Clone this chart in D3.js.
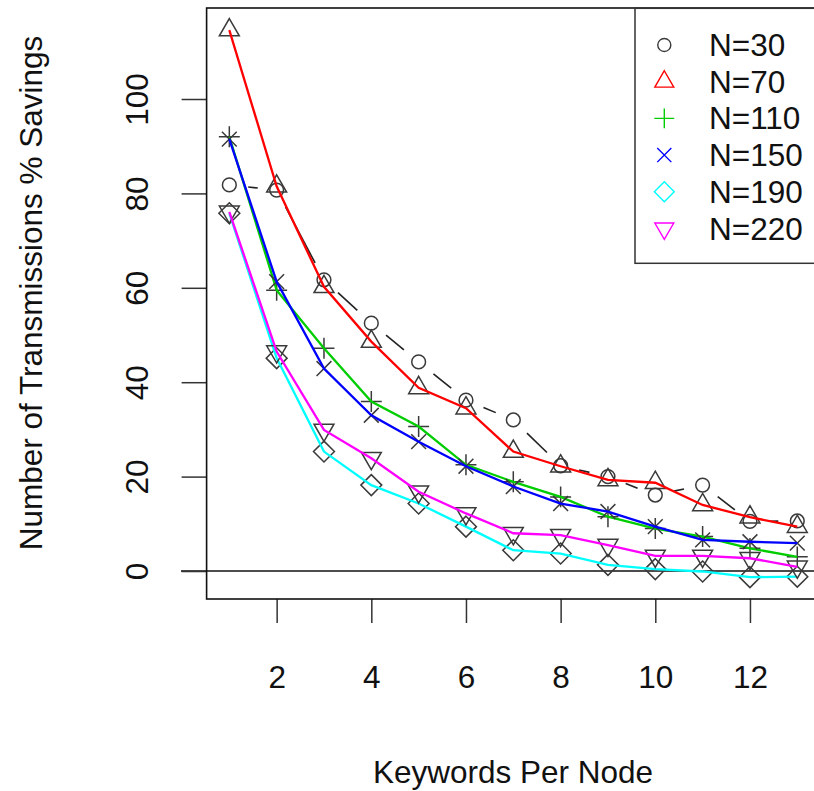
<!DOCTYPE html>
<html>
<head>
<meta charset="utf-8">
<script src="https://cdn.jsdelivr.net/npm/d3@7"></script>
<style>
  body { margin: 0; background: #fff; }
  svg text { font-family: "Liberation Sans", Arial, Helvetica, sans-serif; fill: #111; }
</style>
</head>
<body>
<div id="app"></div>
<script>
// values
var keywords = [1, 2, 3, 4, 5, 6, 7, 8, 9, 10, 11, 12, 13];
var seriesNames = ["N=30", "N=70", "N=110", "N=150", "N=190", "N=220"];
var n30 = [81.8, 80.7, 61.7, 52.5, 44.3, 36.2, 32.0, 22.3, 20.0, 16.1, 18.2, 10.5, 10.6];
var n70 = [114.6, 81.5, 60.2, 48.6, 38.8, 34.5, 25.3, 22.2, 19.3, 18.7, 14.0, 11.4, 9.4];
var n110 = [92.0, 59.5, 47.2, 35.9, 30.6, 22.5, 18.9, 15.7, 11.5, 9.0, 7.3, 4.8, 3.0];
var n150 = [91.5, 61.3, 42.9, 33.0, 27.4, 22.2, 17.9, 14.3, 12.6, 9.4, 6.6, 6.2, 5.9];
var n190 = [75.8, 45.1, 25.3, 18.2, 14.3, 9.4, 4.4, 3.7, 1.3, 0.4, -0.1, -1.3, -1.2];
var n220 = [76.1, 46.5, 29.9, 23.9, 16.8, 12.2, 8.0, 7.6, 5.5, 3.2, 3.2, 2.7, 0.9];
var xTicks = [2, 4, 6, 8, 10, 12];
var yTicks = [0, 20, 40, 60, 80, 100];

var allSeries = [n30, n70, n110, n150, n190, n220];
var colors = ["#000000", "#ff0000", "#00cd00", "#0000ff", "#00ffff", "#ff00ff"];
var shapes = ["circle", "triangle", "plus", "cross", "diamond", "nabla"];
var markColor = "#3a3a3a";
var fontSize = '31.5px';

var W = 814, H = 791;
var x = d3.scaleLinear().domain([0.52, 13.48]).range([206.6, 820]);
var y = d3.scaleLinear().domain([-5.93, 119.28]).range([599, 8]);

var svg = d3.select('#app').append('svg').attr('width', W).attr('height', H);

// R style point symbols, s is the base radius
function symbolPath(shape, s) {
  var p = d3.path();
  if (shape === "circle") {
    p.arc(0, 0, s * 0.93, 0, 2 * Math.PI);
  } else if (shape === "triangle" || shape === "nabla") {
    var r = 1.5551 * s, xc = 1.3468 * s, yc = 0.7776 * s;
    var f = shape === "triangle" ? 1 : -1;
    p.moveTo(0, -r * f); p.lineTo(xc, yc * f); p.lineTo(-xc, yc * f); p.closePath();
  } else if (shape === "plus") {
    var a = 1.414 * s;
    p.moveTo(-a, 0); p.lineTo(a, 0); p.moveTo(0, -a); p.lineTo(0, a);
  } else if (shape === "cross") {
    p.moveTo(-s, -s); p.lineTo(s, s); p.moveTo(-s, s); p.lineTo(s, -s);
  } else if (shape === "diamond") {
    var d = 1.414 * s;
    p.moveTo(0, -d); p.lineTo(d, 0); p.lineTo(0, d); p.lineTo(-d, 0); p.closePath();
  }
  return p.toString();
}

var symSize = 7.4;
var line = d3.line().x(function(d, i) { return x(keywords[i]); }).y(function(d) { return y(d); });

// zero reference line
svg.append('line')
  .attr('x1', 181).attr('x2', W).attr('y1', y(0)).attr('y2', y(0))
  .attr('stroke', '#111').attr('stroke-width', 1.6);

allSeries.forEach(function(vals, k) {
  var g = svg.append('g');
  // markers drawn in grey, line on top
  g.selectAll('path.pt').data(vals).enter().append('path')
    .attr('class', 'pt')
    .attr('transform', function(d, i) { return 'translate(' + x(keywords[i]) + ',' + y(d) + ')'; })
    .attr('d', symbolPath(shapes[k], symSize))
    .attr('fill', 'none').attr('stroke', markColor).attr('stroke-width', 1.5);

  if (k === 0) {
    // type "b": segments with gaps around the points
    var gap = 19;
    var segs = [];
    for (var i = 0; i < vals.length - 1; i++) {
      var x1 = x(keywords[i]), y1 = y(vals[i]), x2 = x(keywords[i + 1]), y2 = y(vals[i + 1]);
      var len = Math.hypot(x2 - x1, y2 - y1);
      if (len <= 2 * gap) continue;
      var ux = (x2 - x1) / len, uy = (y2 - y1) / len;
      segs.push([x1 + ux * gap, y1 + uy * gap, x2 - ux * gap, y2 - uy * gap]);
    }
    g.selectAll('line').data(segs).enter().append('line')
      .attr('x1', function(d) { return d[0]; }).attr('y1', function(d) { return d[1]; })
      .attr('x2', function(d) { return d[2]; }).attr('y2', function(d) { return d[3]; })
      .attr('stroke', '#222').attr('stroke-width', 1.6);
  } else {
    g.append('path').datum(vals)
      .attr('d', line)
      .attr('fill', 'none').attr('stroke', colors[k]).attr('stroke-width', 2.3);
  }
});

// axes
var xAxis = svg.append('g').attr('transform', 'translate(0,599)')
  .call(d3.axisBottom(x).tickValues(xTicks).tickSize(24).tickPadding(0));
xAxis.select('.domain').remove();
xAxis.selectAll('line').attr('stroke', '#333').attr('stroke-width', 1.5);
xAxis.selectAll('text').attr('y', 89).attr('dy', null)
  .style('font-size', fontSize).attr('fill', '#111');

var yAxis = svg.append('g').attr('transform', 'translate(206.6,0)')
  .call(d3.axisLeft(y).tickValues(yTicks).tickSize(25));
yAxis.select('.domain').remove();
yAxis.selectAll('line').attr('stroke', '#333').attr('stroke-width', 1.5);
yAxis.selectAll('text')
  .attr('x', null).attr('dy', null)
  .attr('transform', 'translate(-59,0) rotate(-90)')
  .attr('text-anchor', 'middle')
  .style('font-size', fontSize).attr('fill', '#111');

// plot box, right edge runs off the picture
svg.append('rect')
  .attr('x', 206.6).attr('y', 8).attr('width', 820 - 206.6).attr('height', 591)
  .attr('fill', 'none').attr('stroke', '#111').attr('stroke-width', 1.6);

// titles
svg.append('text').attr('x', 513).attr('y', 783).attr('text-anchor', 'middle')
  .style('font-size', fontSize).text('Keywords Per Node');
svg.append('text').attr('transform', 'translate(42,293) rotate(-90)').attr('text-anchor', 'middle')
  .style('font-size', fontSize).text('Number of Transmissions % Savings');

// legend
var legend = svg.append('g');
legend.append('rect').attr('x', 635).attr('y', 8.3).attr('width', 200).attr('height', 255)
  .attr('fill', '#fff').attr('stroke', '#333').attr('stroke-width', 1.5);
var rows = legend.selectAll('g.row').data(seriesNames).enter().append('g')
  .attr('class', 'row')
  .attr('transform', function(d, i) { return 'translate(0,' + (45 + i * 36.7) + ')'; });
rows.append('path')
  .attr('transform', 'translate(664.3,0)')
  .attr('d', function(d, i) { return symbolPath(shapes[i], symSize * 0.95); })
  .attr('fill', 'none')
  .attr('stroke', function(d, i) { return i === 0 ? markColor : colors[i]; })
  .attr('stroke-width', 1.4);
rows.append('text').attr('x', 709).attr('y', 11)
  .style('font-size', fontSize).text(function(d) { return d; });
</script>
</body>
</html>
